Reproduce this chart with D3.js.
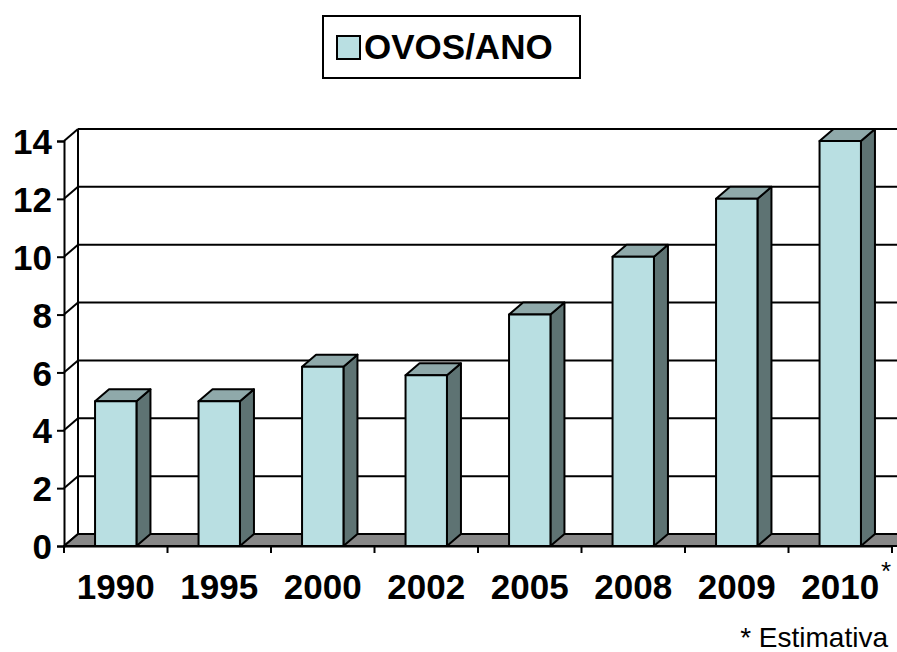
<!DOCTYPE html>
<html>
<head>
<meta charset="utf-8">
<script src="https://cdn.jsdelivr.net/npm/d3@7"></script>
<style>
  body { margin: 0; background: #fff; }
  svg { font-family: "Liberation Sans", Arial, sans-serif; }
</style>
</head>
<body>
<div id="wrapper"></div>
<script>
// data
const years = ['1990', '1995', '2000', '2002', '2005', '2008', '2009', '2010'];
const ovos = [5, 5, 6.2, 5.9, 8, 10, 12, 14];
const yTicks = [0, 2, 4, 6, 8, 10, 12, 14];
const seriesName = 'OVOS/ANO';

function drawChart() {
  const width = 897;
  const height = 652;
  const depth = { dx: 14, dy: -12 };
  const colors = { front: '#b9dfe2', top: '#8fa9aa', side: '#5e7373', floor: '#878787' };

  const svg = d3.select('#wrapper')
    .append('svg')
    .attr('width', width)
    .attr('height', height);

  const xScale = d3.scaleBand()
    .domain(years)
    .range([64, 892])
    .paddingInner(0.6)
    .paddingOuter(0.3);

  const yScale = d3.scaleLinear()
    .domain([0, 14])
    .range([546, 141]);

  const y0 = yScale(0);
  const xLeft = 64;
  const xRight = 892;

  // back wall + gridlines
  const wall = svg.append('g');
  wall.append('rect')
    .attr('x', xLeft + depth.dx)
    .attr('y', yScale(14) + depth.dy)
    .attr('width', xRight - xLeft + 20)
    .attr('height', y0 - yScale(14))
    .attr('fill', '#fff');

  wall.selectAll('line.grid')
    .data(yTicks)
    .join('line')
    .attr('class', 'grid')
    .attr('x1', xLeft + depth.dx)
    .attr('x2', width + 10)
    .attr('y1', (d) => yScale(d) + depth.dy)
    .attr('y2', (d) => yScale(d) + depth.dy)
    .attr('stroke', '#000')
    .attr('stroke-width', 2);

  // left wall diagonals
  wall.selectAll('line.diag')
    .data(yTicks)
    .join('line')
    .attr('class', 'diag')
    .attr('x1', xLeft)
    .attr('y1', (d) => yScale(d))
    .attr('x2', xLeft + depth.dx)
    .attr('y2', (d) => yScale(d) + depth.dy)
    .attr('stroke', '#000')
    .attr('stroke-width', 2);

  wall.append('line')
    .attr('x1', xLeft + depth.dx)
    .attr('x2', xLeft + depth.dx)
    .attr('y1', yScale(14) + depth.dy)
    .attr('y2', y0 + depth.dy)
    .attr('stroke', '#000')
    .attr('stroke-width', 2);

  // floor
  svg.append('polygon')
    .attr('points', [
      [xLeft, y0],
      [xLeft + depth.dx, y0 + depth.dy],
      [width + 20, y0 + depth.dy],
      [width + 20, y0],
    ].join(' '))
    .attr('fill', colors.floor)
    .attr('stroke', '#000')
    .attr('stroke-width', 2)
    .attr('stroke-linejoin', 'round');

  // bars
  const w = xScale.bandwidth();
  const bars = svg.append('g')
    .selectAll('g')
    .data(years.map((y, i) => ({ year: y, value: ovos[i] })))
    .join('g')
    .attr('stroke', '#000')
    .attr('stroke-width', 2)
    .attr('stroke-linejoin', 'round');

  bars.append('polygon')
    .attr('fill', colors.side)
    .attr('points', (d) => {
      const x = xScale(d.year) + w;
      const yv = yScale(d.value);
      return [[x, yv], [x + depth.dx, yv + depth.dy], [x + depth.dx, y0 + depth.dy], [x, y0]].join(' ');
    });

  bars.append('polygon')
    .attr('fill', colors.top)
    .attr('points', (d) => {
      const x = xScale(d.year);
      const yv = yScale(d.value);
      return [[x, yv], [x + depth.dx, yv + depth.dy], [x + w + depth.dx, yv + depth.dy], [x + w, yv]].join(' ');
    });

  bars.append('rect')
    .attr('fill', colors.front)
    .attr('x', (d) => xScale(d.year))
    .attr('y', (d) => yScale(d.value))
    .attr('width', w)
    .attr('height', (d) => y0 - yScale(d.value));

  // y axis
  const yAxis = svg.append('g')
    .attr('transform', `translate(${xLeft},0)`)
    .call(d3.axisLeft(yScale).tickValues(yTicks).tickSize(7).tickPadding(5));
  yAxis.selectAll('path, line').attr('stroke', '#000').attr('stroke-width', 2);
  yAxis.selectAll('text')
    .attr('fill', '#000')
    .style('font-size', '35px')
    .style('font-weight', 'bold')
    .attr('dy', '0.36em');

  // x axis: labels via band axis, ticks at category boundaries
  const xAxis = svg.append('g')
    .attr('transform', `translate(0,${y0})`)
    .call(d3.axisBottom(xScale).tickSize(0).tickPadding(28));
  xAxis.select('.domain').attr('stroke', '#000').attr('stroke-width', 2);
  xAxis.selectAll('text')
    .attr('fill', '#000')
    .style('font-size', '35px')
    .style('font-weight', 'bold');

  const bounds = d3.range(years.length + 1).map((i) => xLeft + i * xScale.step());
  svg.append('g')
    .selectAll('line')
    .data(bounds)
    .join('line')
    .attr('x1', (d) => d)
    .attr('x2', (d) => d)
    .attr('y1', y0)
    .attr('y2', y0 + 7)
    .attr('stroke', '#000')
    .attr('stroke-width', 2);

  svg.append('text')
    .attr('x', 881)
    .attr('y', 580)
    .style('font-size', '26px')
    .text('*');

  svg.append('text')
    .attr('x', 888)
    .attr('y', 647)
    .attr('text-anchor', 'end')
    .style('font-size', '28px')
    .text('* Estimativa');

  // legend
  const legend = svg.append('g');
  legend.append('rect')
    .attr('x', 323)
    .attr('y', 16)
    .attr('width', 257)
    .attr('height', 62)
    .attr('fill', '#fff')
    .attr('stroke', '#000')
    .attr('stroke-width', 2);
  legend.append('rect')
    .attr('x', 337)
    .attr('y', 36)
    .attr('width', 23)
    .attr('height', 23)
    .attr('fill', colors.front)
    .attr('stroke', '#000')
    .attr('stroke-width', 2);
  legend.append('text')
    .attr('x', 364)
    .attr('y', 59)
    .style('font-size', '35px')
    .style('font-weight', 'bold')
    .text(seriesName);
}

drawChart();
</script>
</body>
</html>
